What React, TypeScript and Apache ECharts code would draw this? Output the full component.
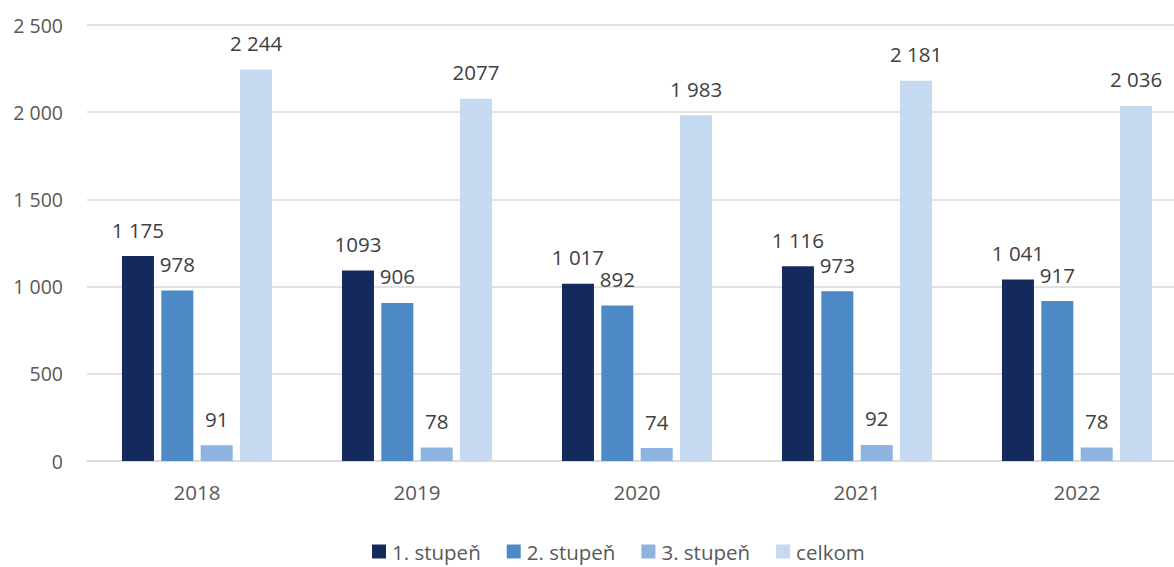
import React, { useEffect, useRef } from "react";
import * as echarts from "echarts";

const years = ["2018", "2019", "2020", "2021", "2022"];
const seriesNames = ["1. stupeň", "2. stupeň", "3. stupeň", "celkom"];
const stupen1 = [1175, 1093, 1017, 1116, 1041];
const stupen2 = [978, 906, 892, 973, 917];
const stupen3 = [91, 78, 74, 92, 78];
const celkom = [2244, 2077, 1983, 2181, 2036];
const labels1 = ["1 175", "1093", "1 017", "1 116", "1 041"];
const labels2 = ["978", "906", "892", "973", "917"];
const labels3 = ["91", "78", "74", "92", "78"];
const labels4 = ["2 244", "2077", "1 983", "2 181", "2 036"];
const colors = ["#142A5C", "#4E89C7", "#8DB3E1", "#C5D9F0"];

const FONT = "'Open Sans', sans-serif";

export default function App() {
  const ref = useRef<HTMLDivElement>(null);
  useEffect(() => {
    if (!ref.current) return;
    const chart = echarts.init(ref.current, undefined, { renderer: "svg" });
    const values = [stupen1, stupen2, stupen3, celkom];
    const labelTexts = [labels1, labels2, labels3, labels4];
    chart.setOption({
      animation: false,
      textStyle: { fontFamily: FONT },
      grid: {
        left: 87,
        top: 25,
        width: 1100,
        height: 436,
        containLabel: false,
        outerBoundsMode: "none",
      },
      legend: {
        top: 541,
        left: 372,
        padding: 0,
        itemWidth: 14,
        itemHeight: 14,
        itemGap: 26,
        icon: "rect",
        textStyle: {
          fontFamily: FONT,
          fontSize: 20.5,
          lineHeight: 20,
          color: "#595959",
          padding: [0, 0, 0, 1],
        },
        data: seriesNames,
      },
      xAxis: {
        type: "category",
        data: years,
        axisTick: { show: false },
        axisLine: { lineStyle: { color: "#D9D9D9", width: 1.5 } },
        axisLabel: { fontFamily: FONT, fontSize: 20.5, color: "#595959", margin: 20 },
      },
      yAxis: {
        type: "value",
        min: 0,
        max: 2500,
        interval: 500,
        axisLine: { show: false },
        axisTick: { show: false },
        splitLine: { lineStyle: { color: "#D9D9D9", width: 1.5 } },
        axisLabel: {
          fontFamily: FONT,
          fontSize: 19.5,
          color: "#595959",
          margin: 24,
          formatter: (v: number) => String(v).replace(/\B(?=(\d{3})+(?!\d))/g, " "),
        },
      },
      series: seriesNames.map((name, i) => ({
        name,
        type: "bar",
        barWidth: 32,
        barGap: "23%",
        itemStyle: { color: colors[i] },
        data: values[i],
        label: {
          show: true,
          position: "top",
          distance: 16,
          fontFamily: FONT,
          fontSize: 20.5,
          color: "#404040",
          formatter: (p: any) => labelTexts[i][p.dataIndex],
        },
      })),
    });
    return () => chart.dispose();
  }, []);
  return (
    <div
      ref={ref}
      style={{ position: "absolute", left: 0, top: 0, width: 1174, height: 567 }}
    />
  );
}
